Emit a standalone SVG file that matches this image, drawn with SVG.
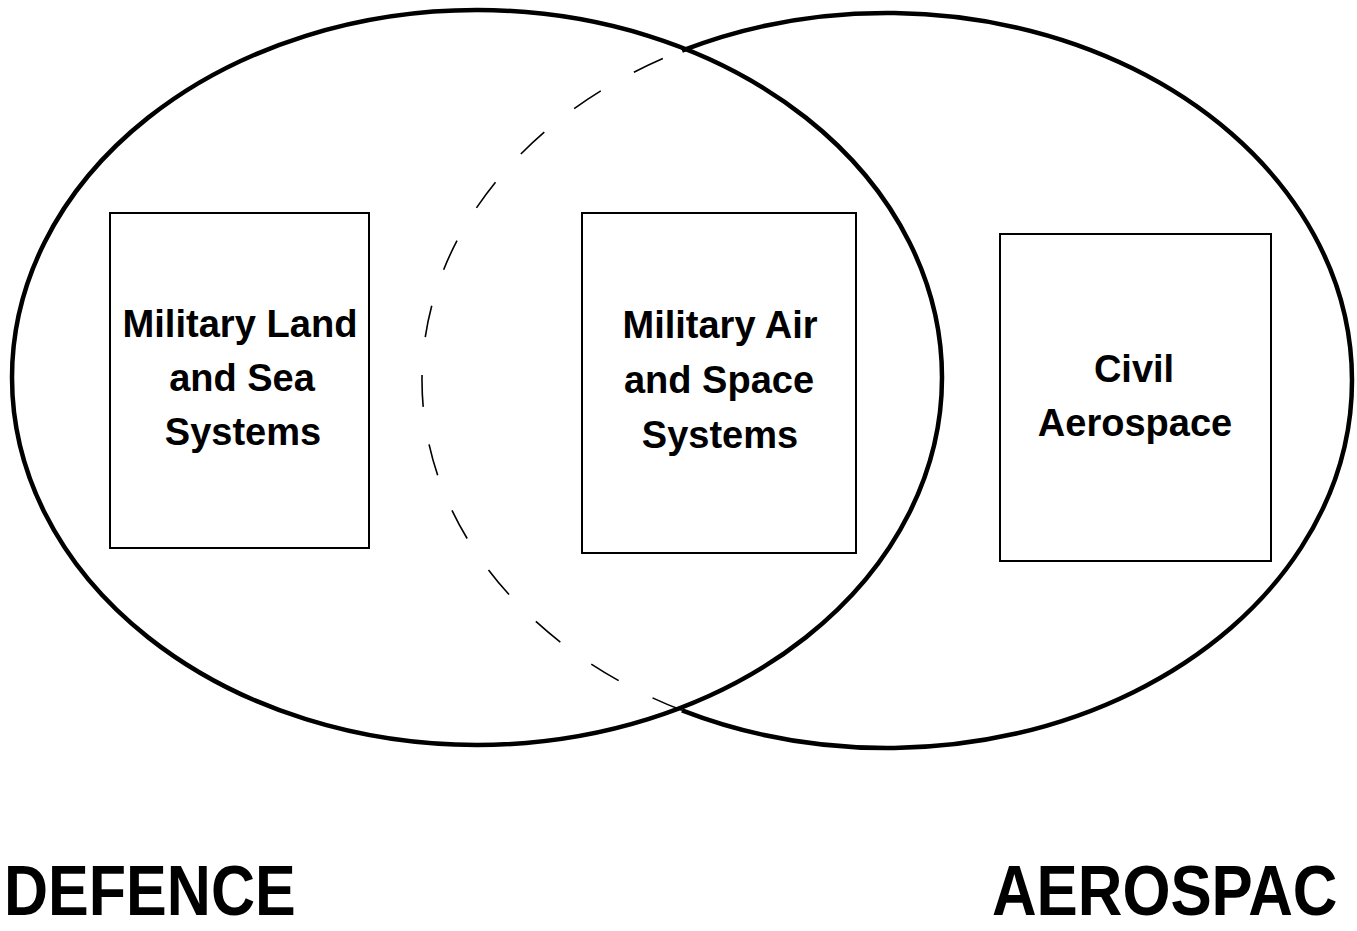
<svg xmlns="http://www.w3.org/2000/svg" width="1357" height="931" viewBox="0 0 1357 931">
  <style>
    .set { fill: none; stroke: #000; stroke-width: 4.5; }
    .hidden { fill: none; stroke: #000; stroke-width: 1.6; stroke-dasharray: 32 38; }
    .box { fill: #fff; stroke: #000; stroke-width: 2; }
    .lbl { font-family: "Liberation Sans", Arial, sans-serif; font-weight: bold; font-size: 38px; fill: #000; text-anchor: middle; }
    .title { font-family: "Liberation Sans", Arial, sans-serif; font-weight: bold; font-size: 71px; fill: #000; }
  </style>
  <rect width="1357" height="931" fill="#fff"/>

  <!-- Overlapping sets: DEFENCE (left) and AEROSPACE (right) -->
  <g id="sets">
    <ellipse id="defence-set" class="set" cx="477" cy="377.5" rx="465" ry="367.5"/>
    <!-- outer part of the aerospace set -->
    <path id="aerospace-set" class="set" d="M682,50.64 A465,367.5 0 1,1 682,710.36"/>
    <!-- part of the aerospace set lying inside the defence set -->
    <path id="aerospace-set-inner" class="hidden" d="M682,710.36 A465,367.5 0 0,1 682,50.64"/>
  </g>

  <g id="military-land-sea">
    <rect class="box" x="110" y="213" width="259" height="335"/>
    <text class="lbl" x="240" y="337" textLength="235" lengthAdjust="spacingAndGlyphs">Military Land</text>
    <text class="lbl" x="242" y="391">and Sea</text>
    <text class="lbl" x="243" y="445">Systems</text>
  </g>

  <g id="military-air-space">
    <rect class="box" x="582" y="213" width="274" height="340"/>
    <text class="lbl" x="720" y="338">Military Air</text>
    <text class="lbl" x="719" y="393">and Space</text>
    <text class="lbl" x="720" y="448">Systems</text>
  </g>

  <g id="civil-aerospace">
    <rect class="box" x="1000" y="234" width="271" height="327"/>
    <text class="lbl" x="1134" y="382">Civil</text>
    <text class="lbl" x="1135" y="436">Aerospace</text>
  </g>

  <!-- set titles, condensed horizontally -->
  <g id="set-titles">
    <text class="title" transform="translate(4,915) scale(0.86,1)">DEFENCE</text>
    <text class="title" transform="translate(992,915) scale(0.87,1)">AEROSPAC</text>
  </g>
</svg>
